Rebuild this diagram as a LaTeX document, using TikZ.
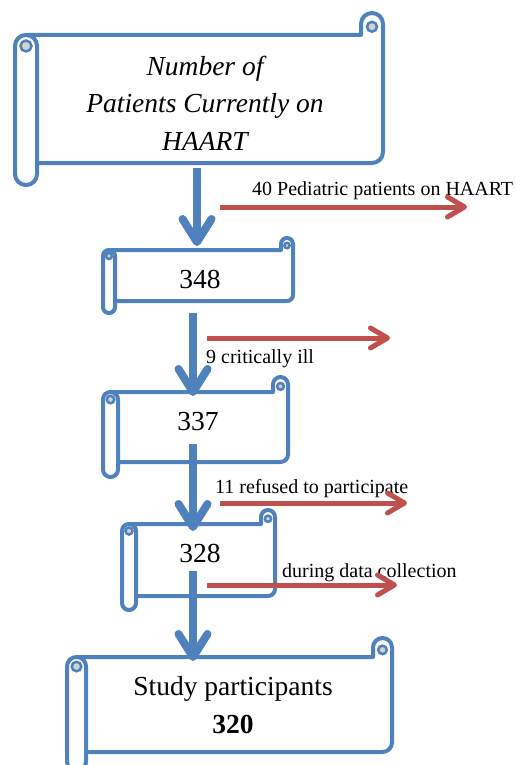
\documentclass[tikz,border=0pt]{standalone}
\usepackage{fontspec}
\setmainfont{Liberation Serif}
\usetikzlibrary{arrows.meta}
\definecolor{sblue}{HTML}{4F81BD}
\definecolor{sred}{HTML}{C0504D}
\tikzset{
  scrollline/.style={draw=sblue, line width=4pt, line join=round, line cap=round},
  curl/.style={draw=sblue, line width=2.5pt, fill=gray!35},
  bluearrow/.style={draw=sblue, line width=8pt, -{Straight Barb[length=23pt,width=29pt,round]}},
  redarrow/.style={draw=sred, line width=5pt, -{Straight Barb[length=17pt,width=20pt,round]}},
  bigtxt/.style={inner sep=0pt, font=\fontsize{27.5}{37.5}\selectfont},
  lbl/.style={inner sep=0pt, font=\fontsize{20}{24}\selectfont},
}
% x0 y0 x1 y1 R
\newcommand\scrollshape[5]{%
  \draw[scrollline, fill=white] ({#1+#5},{#2+2*#5}) -- ({#3-2*#5},{#2+2*#5}) -- ({#3-2*#5},{#2+#5})
     arc[start angle=180,end angle=360,radius=#5] [rounded corners=#5pt] -- (#3,{#4-2*#5})
     -- ({#1+#5},{#4-2*#5}) [sharp corners] -- cycle;
  \draw[curl] ({#3-#5},{#2+1.25*#5}) circle ({0.45*#5});
  \draw[scrollline, fill=white, rounded corners={0.99*#5pt}] (#1,{#2+2*#5}) rectangle ({#1+2*#5},#4);
  \draw[curl] ({#1+#5},{#2+3*#5}) circle ({0.5*#5});
}
\begin{document}
\begin{tikzpicture}[x=1pt,y=-1pt]
\useasboundingbox (0,0) rectangle (515,765);
\fill[white] (0,0) rectangle (515,765);

% scrolls
\scrollshape{15}{13}{383}{185}{11}
\scrollshape{103}{238}{293}{313}{6}
\scrollshape{103}{377}{288}{477}{7.5}
\scrollshape{122}{510}{275}{610}{7}
\scrollshape{67}{638}{392}{771}{9.5}

% texts
\node[bigtxt, font=\fontsize{27.5}{37.5}\selectfont\itshape, align=center] (top) at (205,103)
  {Number of\\Patients Currently on\\HAART};
\node[bigtxt, anchor=base] (n348) at (200,288) {348};
\node[bigtxt, anchor=base] (n337) at (198,430) {337};
\node[bigtxt, anchor=base] (n328) at (200,562) {328};
\node[bigtxt, align=center] (study) at (233,705) {Study participants\\\textbf{320}};

\node[lbl, anchor=base west] (l1) at (252,195) {40 Pediatric patients on HAART};
\node[lbl, anchor=base west] (l2) at (206,363) {9 critically ill};
\node[lbl, anchor=base west] (l3) at (215,493) {11 refused to participate};
\node[lbl, anchor=base west] (l4) at (282,577) {during data collection};

% coordinates
\coordinate (b1s) at (197,168); \coordinate (b1e) at (197,246);
\coordinate (b2s) at (193,313); \coordinate (b2e) at (193,396);
\coordinate (b3s) at (193,444); \coordinate (b3e) at (193,531);
\coordinate (b4s) at (193,571); \coordinate (b4e) at (193,661);

\coordinate (r1s) at (220,207); \coordinate (r1e) at (467,207);
\coordinate (r2s) at (207,338); \coordinate (r2e) at (390,338);
\coordinate (r3s) at (220,503); \coordinate (r3e) at (407,503);
\coordinate (r4s) at (207,585); \coordinate (r4e) at (397,585);

% arrows
\draw[bluearrow] (b1s) -- (b1e);
\draw[bluearrow] (b2s) -- (b2e);
\draw[bluearrow] (b3s) -- (b3e);
\draw[bluearrow] (b4s) -- (b4e);

\draw[redarrow] (r1s) -- (r1e);
\draw[redarrow] (r2s) -- (r2e);
\draw[redarrow] (r3s) -- (r3e);
\draw[redarrow] (r4s) -- (r4e);
\end{tikzpicture}
\end{document}
